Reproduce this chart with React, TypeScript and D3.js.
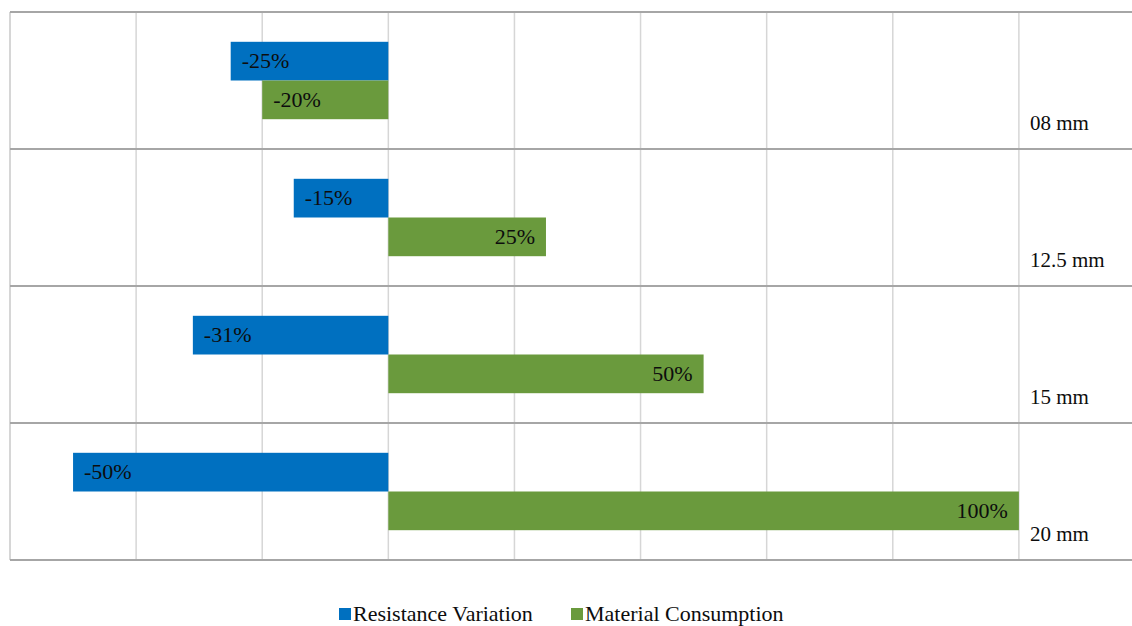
import React from "react";
import * as d3 from "d3";

const categories = ["08 mm", "12.5 mm", "15 mm", "20 mm"];
const resistanceVariation = [-25, -15, -31, -50];
const materialConsumption = [-20, 25, 50, 100];
const seriesNames = ["Resistance Variation", "Material Consumption"];
const seriesColors = ["#0070C0", "#6A9A3D"];
const gridTicks = [-60, -40, -20, 0, 20, 40, 60, 80, 100];

const W = 1132;
const H = 626;
const FONT = '"Liberation Serif", "Times New Roman", serif';

export default function App() {
  const x = d3.scaleLinear().domain([-60, 120]).range([10, 1145]);
  const band = d3.scaleBand<string>().domain(categories).range([12, 560]).padding(0);
  const inner = d3
    .scaleBand<number>()
    .domain([0, 1])
    .range([0, band.bandwidth()])
    .paddingOuter(0.77)
    .paddingInner(0);

  const series = [resistanceVariation, materialConsumption];
  const boundaries = [...categories.map((c) => band(c) as number), 560];
  const tStyle = { fontFamily: FONT };

  return (
    <svg
      width={W}
      height={H}
      style={{ position: "absolute", left: 0, top: 0, background: "#fff" }}
    >
      {gridTicks.map((t) => (
        <line
          key={"g" + t}
          x1={x(t)}
          x2={x(t)}
          y1={12}
          y2={560}
          stroke={t === -60 ? "#C8C8C8" : "#D6D6D6"}
          strokeWidth={1.5}
        />
      ))}
      {boundaries.map((y, i) => (
        <line key={"h" + i} x1={10} x2={W} y1={y} y2={y} stroke="#A6A6A6" strokeWidth={2} />
      ))}
      {categories.map((c, ci) =>
        series.map((vals, si) => {
          const v = vals[ci];
          const y0 = (band(c) as number) + (inner(si) as number);
          const h = inner.bandwidth();
          const xa = x(Math.min(0, v));
          const xb = x(Math.max(0, v));
          const neg = v < 0;
          return (
            <g key={c + si}>
              <rect x={xa} y={y0} width={xb - xa} height={h} fill={seriesColors[si]} />
              <text
                x={neg ? xa + 11 : xb - 11}
                y={y0 + h / 2 + 7}
                textAnchor={neg ? "start" : "end"}
                fontSize={22}
                fill="#0d0d0d"
                style={tStyle}
              >
                {v + "%"}
              </text>
            </g>
          );
        })
      )}
      {categories.map((c) => (
        <text
          key={"l" + c}
          x={1030}
          y={(band(c) as number) + band.bandwidth() - 19}
          fontSize={21}
          fill="#0d0d0d"
          style={tStyle}
        >
          {c}
        </text>
      ))}
      {seriesNames.map((n, i) => {
        const lx = i === 0 ? 339 : 571;
        return (
          <g key={n}>
            <rect x={lx} y={608} width={12} height={12} fill={seriesColors[i]} />
            <text x={lx + 14} y={621} fontSize={22} fill="#0d0d0d" style={tStyle}>
              {n}
            </text>
          </g>
        );
      })}
    </svg>
  );
}
